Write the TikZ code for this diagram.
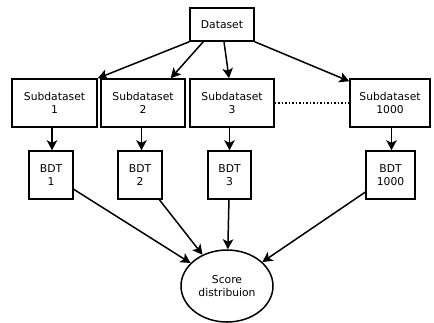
\documentclass[tikz,border=0pt]{standalone}
\usepackage{fontspec}
\setmainfont{DejaVu Sans}
\usetikzlibrary{arrows.meta,shapes.geometric,calc}
\begin{document}
\begin{tikzpicture}[x=1bp,y=-1bp,
  every node/.style={font=\fontsize{10.8}{13.5}\selectfont, align=center, inner sep=0pt},
  box/.style={draw, line width=1.5bp, minimum height=48bp},
  arr/.style={-{Stealth[length=10bp,width=10.5bp,inset=2.5bp]}, line width=1.5bp}]
\useasboundingbox (0,0) rectangle (434,322);
\node[box, minimum width=64bp, minimum height=33bp] (D) at (222,24.5) {Dataset};
\node[box, minimum width=85bp] (S1) at (54.5,103) {Subdataset\\1};
\node[box, minimum width=84bp] (S2) at (143,103) {Subdataset\\2};
\node[box, minimum width=84bp] (S3) at (232,103) {Subdataset\\3};
\node[box, minimum width=80bp] (S4) at (390,103) {Subdataset\\1000};
\node[box, minimum width=44bp] (B1) at (51,175) {BDT\\1};
\node[box, minimum width=44bp] (B2) at (140,175) {BDT\\2};
\node[box, minimum width=43bp] (B3) at (229.5,175) {BDT\\3};
\node[box, minimum width=49bp] (B4) at (390.5,175) {BDT\\1000};
\node[draw, ellipse, line width=1.5bp, minimum width=92bp, minimum height=72bp] (E) at (227,286) {Score\\distribuion};
\draw[arr] (D.south west) -- (S1.north east);
\draw[arr] ([xshift=14bp]D.south west) -- ([xshift=-15bp]S2.north east);
\draw[arr] ([xshift=2bp]D.south) -- ([xshift=-3bp]S3.north);
\draw[arr] (D.south east) -- ([yshift=-3bp]S4.north west);
\draw[dotted, line width=1.5bp] (S3.east) -- (S4.west);
\draw[arr] ([xshift=1bp]B1.north |- S1.south) -- ([xshift=1bp]B1.north);
\draw[arr] ([xshift=1.5bp]B2.north |- S2.south) -- ([xshift=1.5bp]B2.north);
\draw[arr] (B3.north |- S3.south) -- (B3.north);
\draw[arr] ([xshift=1bp]B4.north |- S4.south) -- ([xshift=1bp]B4.north);
\draw[arr] (B1) -- (E);
\draw[arr] (B2) -- (E);
\draw[arr] (B3) -- (E);
\draw[arr] (B4) -- (E);
\end{tikzpicture}
\end{document}
